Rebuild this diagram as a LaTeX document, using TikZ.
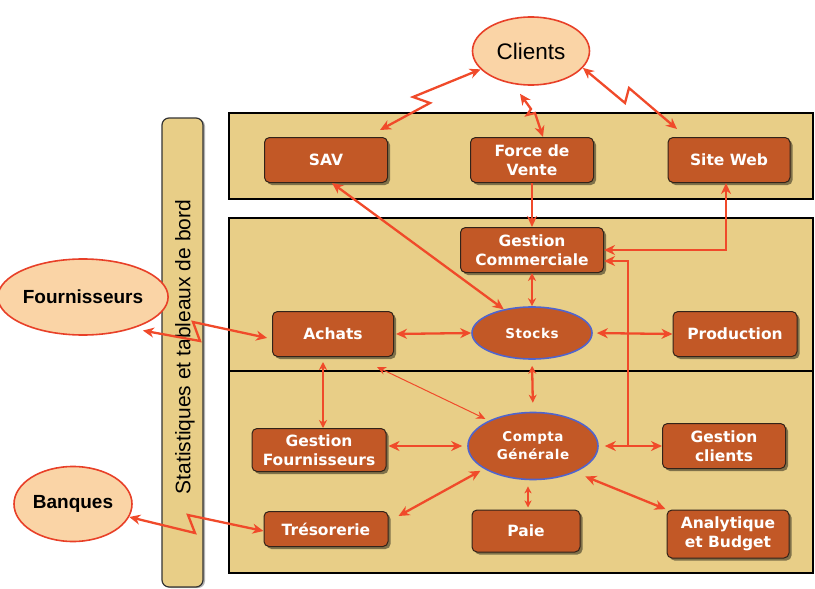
\documentclass[tikz,border=0pt]{standalone}
\usepackage{fontspec}
\setmainfont{Liberation Sans}
\newfontfamily\dvs{DejaVu Sans}
\newfontfamily\dvsp{DejaVu Sans}[LetterSpace=4]
\usetikzlibrary{arrows.meta,shapes.geometric,shadows,calc}
\definecolor{bandc}{RGB}{232,206,135}
\definecolor{boxc}{RGB}{194,88,38}
\definecolor{boxb}{RGB}{50,35,25}
\definecolor{arrc}{RGB}{240,74,42}
\definecolor{ellf}{RGB}{250,212,166}
\definecolor{ellb}{RGB}{232,64,40}
\definecolor{blueb}{RGB}{80,100,205}
\tikzset{
  box/.style={draw=boxb, line width=1pt, fill=boxc, rounded corners=5pt, text=white,
    font=\dvs\bfseries\fontsize{15.5}{19}\selectfont, align=center, inner sep=0pt,
    drop shadow={shadow xshift=2.5pt, shadow yshift=-2.5pt, fill=black, opacity=0.45}},
  oval/.style={ellipse, draw=blueb, line width=1.6pt, fill=boxc, text=white, inner sep=0pt,
    font=\dvsp\bfseries\fontsize{13.5}{18}\selectfont, align=center},
  ext/.style={ellipse, draw=ellb, line width=1.6pt, fill=ellf, inner sep=0pt},
  con/.style={draw=arrc, line width=2.3pt, line join=miter,
    >={Stealth[length=11pt,width=10pt,inset=3.5pt]}},
  small/.style={>={Stealth[length=8pt,width=8pt,inset=2.5pt]}},
  thin/.style={draw=arrc, line width=1pt, >={Stealth[length=9pt,width=8pt,inset=3pt]}},
}
\begin{document}
\begin{tikzpicture}[x=1pt,y=-1pt]
\useasboundingbox (0,0) rectangle (815,589);
% bands
\draw[fill=bandc, line width=2pt] (229,113) rectangle (813,199);
\draw[fill=bandc, line width=2pt] (229,218) rectangle (813,573);
\draw[line width=2pt] (229,371) -- (813,371);
% side bar
\draw[fill=bandc, draw=black!80, line width=1.2pt, rounded corners=7pt,
  drop shadow={shadow xshift=2pt, shadow yshift=-1pt, fill=black, opacity=0.3}]
  (162,118) rectangle (203,587);
\node[rotate=90, font=\fontsize{21}{25}\selectfont] (stat) at (185,347) {Statistiques et tableaux de bord};
% outer ellipses
\node[ext, minimum width=117pt, minimum height=68pt, font=\fontsize{22.5}{26}\selectfont] (cli) at (531,51) {Clients};
\node[ext, minimum width=139pt, minimum height=76pt, font=\bfseries\fontsize{19}{22}\selectfont] (four) at (83,297) {Fournisseurs};
\node[ext, minimum width=118pt, minimum height=75pt, font=\bfseries\fontsize{19}{22}\selectfont] (ban) at (73,504) {Banques};
% boxes
\node[box, minimum width=123pt, minimum height=45pt] (sav) at (326,160) {SAV};
\node[box, minimum width=123pt, minimum height=45pt] (fdv) at (532,160) {Force de\\Vente};
\node[box, minimum width=122pt, minimum height=45pt] (sw) at (729,160) {Site Web};
\node[box, minimum width=143pt, minimum height=45pt] (gc) at (532,250) {Gestion\\Commerciale};
\node[box, minimum width=121pt, minimum height=45pt] (ach) at (333,334) {Achats};
\node[box, minimum width=124pt, minimum height=45pt] (prod) at (735,334) {Production};
\node[box, minimum width=134pt, minimum height=43pt] (gf) at (319,450) {Gestion\\Fournisseurs};
\node[box, minimum width=124pt, minimum height=35pt] (treso) at (326,529) {Trésorerie};
\node[box, minimum width=123pt, minimum height=45pt] (gcl) at (724,446) {Gestion\\clients};
\node[box, minimum width=108pt, minimum height=42pt] (paie) at (526,531) {Paie};
\node[box, minimum width=122pt, minimum height=48pt] (ana) at (728,534) {Analytique\\et Budget};
\node[oval, minimum width=120pt, minimum height=52pt] (stk) at (532,333) {Stocks};
\node[oval, minimum width=130pt, minimum height=67pt] (cpt) at (533,446) {Compta\\Générale};
% connectors
\coordinate (J) at (628,446);
\draw[con,<->] (cli.200) -- (413,97) -- (430,103) -- ([xshift=54pt,yshift=7pt]sav.north);
\draw[con,<->] ([xshift=-11pt,yshift=-8pt]cli.south) -- (531,109) -- (527,115) -- (535,113) -- ([xshift=11pt]fdv.north);
\draw[con,<->] (cli.-18) -- (625,103) -- (629,88) -- ([xshift=-52pt,yshift=8pt]sw.north);
\draw[con,->] (fdv.south) -- (gc.north);
\draw[con,<->] ([xshift=-3pt]sw.south) |- (gc.east);
\draw[con,<->] ([xshift=6pt]sav.south) -- (stk.140);
\draw[con,->] (J) |- ([yshift=-11pt]gc.east);
\draw[con,<->,shorten <=6pt] (cpt.east) -- (gcl.west);
\draw[con,small,<->] (gc.south) -- (stk.north);
\draw[con,small,<->,shorten <=6pt,shorten >=9pt] (stk.south) -- (cpt.north);
\draw[con,<->,shorten <=2pt] (ach.east) -- (stk.west);
\draw[con,<->,shorten <=4pt] (stk.east) -- (prod.west);
\draw[con,small,<->,shorten <=5pt] ([xshift=-10pt]ach.south) -- ([xshift=4pt]gf.north);
\draw[thin,<->,shorten >=4pt] ([xshift=-17pt,yshift=-10pt]ach.south east) -- (cpt.150);
\draw[con,<->,shorten <=2pt,shorten >=5pt] (gf.east |- cpt.west) -- (cpt.west);
\draw[con,<->,shorten >=4pt] ([xshift=10pt,yshift=-5pt]treso.north east) -- (cpt.205);
\draw[thin,line width=1.4pt,<->,shorten <=6pt,shorten >=2pt,>={Stealth[length=7pt,width=7pt,inset=2pt]}] ([xshift=-5pt]cpt.south) -- ([xshift=2pt]paie.north);
\draw[con,<->,shorten <=11pt,shorten >=1pt] (cpt.-32) -- (ana.north west);
\draw[con,<->,shorten >=5pt] ([xshift=7pt,yshift=-3pt]four.-30) -- (200,341) -- (193,322) -- ([yshift=-5pt]ach.west);
\draw[con,<->] (ban.-13) -- (195,533) -- (188,515) -- ([yshift=-2pt]treso.west);
\end{tikzpicture}
\end{document}
